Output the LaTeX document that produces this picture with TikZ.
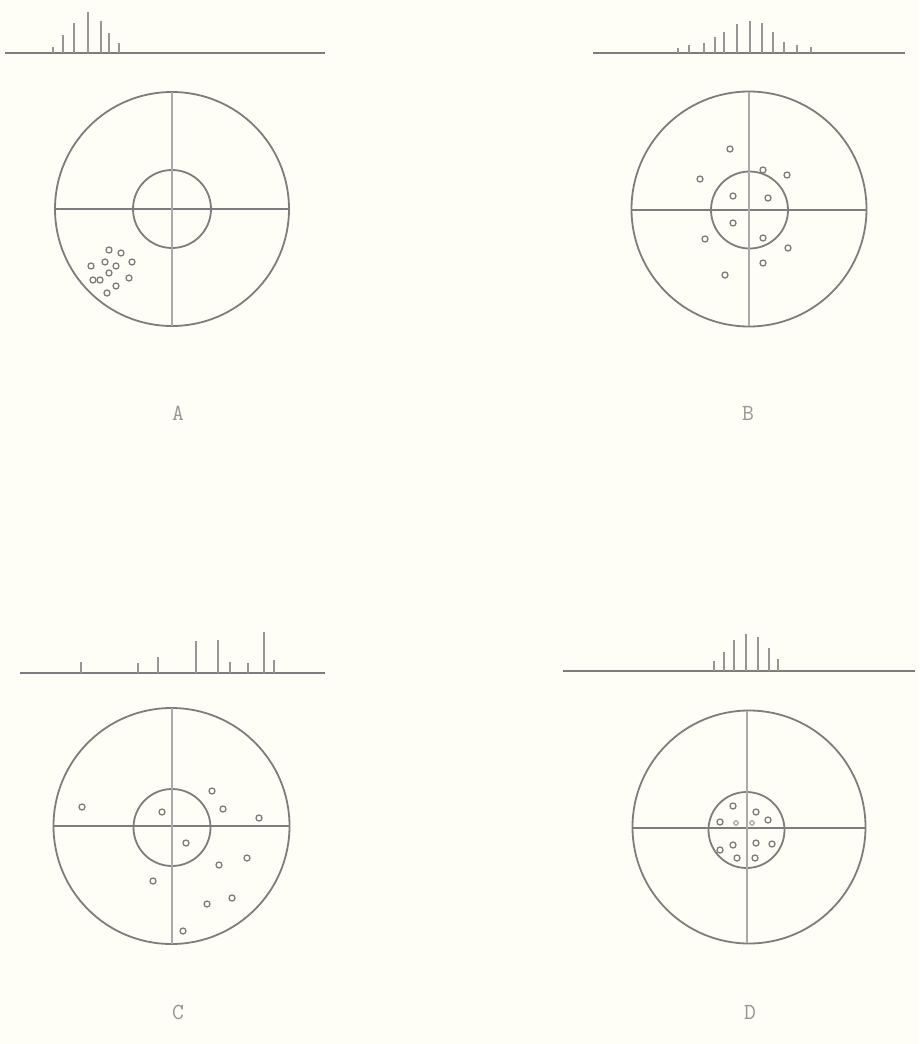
\documentclass[tikz,border=0pt]{standalone}
\definecolor{paper}{RGB}{254,254,246}
\definecolor{ink}{RGB}{125,125,125}
\definecolor{inklight}{RGB}{170,170,170}
\definecolor{barink}{RGB}{150,150,150}
\begin{document}
\begin{tikzpicture}[x=1pt,y=-1pt,
  ring/.style={draw=ink,line width=1.8pt},
  hline/.style={draw=ink,line width=1.5pt},
  vline/.style={draw=inklight,line width=1.4pt},
  hit/.style={draw=ink,line width=1.3pt},
  bar/.style={draw=barink,line width=1.6pt},
  base/.style={draw=ink,line width=1.5pt},
  lbl/.style={text=barink,font=\ttfamily\fontsize{23}{23}\selectfont,inner sep=0pt}]
\fill[paper] (0,0) rectangle (919,1044);
\useasboundingbox (0,0) rectangle (919,1044);

% ---------- A ----------
\coordinate (cA) at (172,209);
\draw[ring] (cA) circle[radius=117pt];
\draw[ring] (cA) circle[radius=39pt];
\draw[hline] (55,209) -- (289,209);
\draw[vline] (172,92) -- (172,326);
\foreach \x/\y in {109/250,121/253,105/262,116/266,132/262,91/266,109/273,93/280,100/280,129/278,116/286,107/293}
  \draw[hit] (\x,\y) circle[radius=3pt];
\draw[base] (5,53) -- (325,53);
\foreach \x/\t in {53/47,63/35,74/23,88/12,101/21,109/33,119/43}
  \draw[bar] (\x,53) -- (\x,\t);
\node[lbl] (labA) at (178,413) {A};

% ---------- B ----------
\coordinate (cB) at (749,209);
\draw[ring] (cB) circle[radius=117.5pt];
\draw[ring] (749.5,210) circle[radius=38.5pt];
\draw[hline] (632,210) -- (866,210);
\draw[vline] (749,92) -- (749,326);
\foreach \x/\y in {730/149,700/179,763/170,787/175,733/196,768/198,733/223,705/239,763/238,788/248,763/263,725/275}
  \draw[hit] (\x,\y) circle[radius=3pt];
\draw[base] (593,53) -- (905,53);
\foreach \x/\t in {678/48,689/45,704/43,715/37,724/32,737/24,750/21,762/23,773/32,784/42,797/45,811/47}
  \draw[bar] (\x,53) -- (\x,\t);
\node[lbl] (labB) at (748,413) {B};

% ---------- C ----------
\coordinate (cC) at (171.5,826);
\draw[ring] (cC) circle[radius=118pt];
\draw[ring] (172,827.5) circle[radius=38.5pt];
\draw[hline] (53.5,826) -- (289.5,826);
\draw[vline] (172,708) -- (172,944);
\foreach \x/\y in {82/807,162/812,212/791,223/809,259/818,186/843,247/858,219/865,153/881,207/904,232/898,183/931}
  \draw[hit] (\x,\y) circle[radius=3pt];
\draw[base] (20,673) -- (325,673);
\foreach \x/\t in {81/662,138/663,158/657,196/641,218/640,230/662,248/663,264/632,274/660}
  \draw[bar] (\x,673) -- (\x,\t);
\node[lbl] (labC) at (178,1012) {C};

% ---------- D ----------
\coordinate (cD) at (749,827);
\draw[ring] (cD) circle[radius=116.5pt];
\draw[ring] (746.5,830) circle[radius=38pt];
\draw[hline] (632.5,828) -- (865.5,828);
\draw[vline] (747,711) -- (747,943);
\foreach \x/\y in {733/806,756/812,720/822,768/820,733/845,756/843,772/844,720/850,737/858,755/858}
  \draw[hit] (\x,\y) circle[radius=3pt];
\draw[hit,draw=inklight] (736,823) circle[radius=2.2pt];
\draw[hit,draw=inklight] (752,823) circle[radius=2.2pt];
\draw[base] (563,671) -- (915,671);
\foreach \x/\t in {714/661,724/652,734/640,746/634,758/637,769/648,778/659}
  \draw[bar] (\x,671) -- (\x,\t);
\node[lbl] (labD) at (750,1012) {D};
\end{tikzpicture}
\end{document}
